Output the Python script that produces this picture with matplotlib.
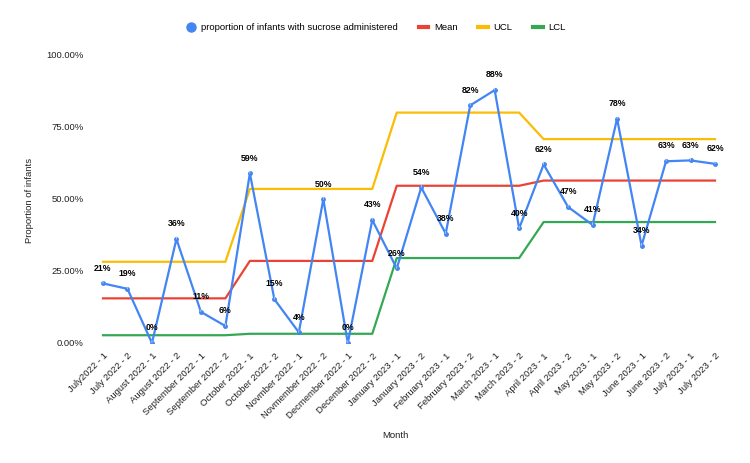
import matplotlib
matplotlib.use("Agg")
import matplotlib.pyplot as plt
from matplotlib.lines import Line2D
from matplotlib.ticker import FuncFormatter

plt.rcParams['font.family'] = ['Liberation Sans', 'DejaVu Sans']

categories = ["July2022 - 1", "July 2022 - 2", "August 2022 - 1", "August 2022 - 2",
              "September 2022 - 1", "September 2022 - 2", "October 2022 - 1", "October 2022 - 2",
              "Novmber 2022 - 1", "Novmember 2022 - 2", "Decmember 2022 - 1", "December 2022 - 2",
              "January 2023 - 1", "January 2023 - 2", "February 2023 - 1", "February 2023 - 2",
              "March 2023 - 1", "March 2023 - 2", "April 2023 - 1", "April 2023 - 2",
              "May 2023 - 1", "May 2023 - 2", "June 2023 - 1", "June 2023 - 2",
              "July 2023 - 1", "July 2023 - 2"]
proportion = [0.207, 0.188, 0.0, 0.361, 0.108, 0.059, 0.589, 0.152, 0.037, 0.499, 0.0, 0.427,
              0.259, 0.540, 0.380, 0.825, 0.878, 0.398, 0.620, 0.472, 0.410, 0.779, 0.338, 0.631,
              0.634, 0.622]
mean = [0.155]*6 + [0.285]*6 + [0.546]*6 + [0.564]*8
ucl = [0.282]*6 + [0.535]*6 + [0.800]*6 + [0.708]*8
lcl = [0.027]*6 + [0.032]*6 + [0.295]*6 + [0.420]*8

BLUE = '#4285F4'; RED = '#EA4335'; YELLOW = '#FBBC04'; GREEN = '#34A853'
FS = 6.8

fig = plt.figure(figsize=(7.5, 4.63), dpi=100)
ax = fig.add_axes([90.75/750, (463-343)/463, (727.25-90.75)/750, 288/463])
x = list(range(len(categories)))

ax.plot(x, mean, color=RED, lw=1.6, zorder=2)
ax.plot(x, ucl, color=YELLOW, lw=1.6, zorder=2)
ax.plot(x, lcl, color=GREEN, lw=1.6, zorder=2)
ax.plot(x, proportion, color=BLUE, lw=1.6, marker='o', ms=2.5, zorder=3)

for xi, v in zip(x, proportion):
    ax.annotate(f"{round(v*100):.0f}%", xy=(xi, v), xytext=(0, 11), textcoords='offset points',
                ha='center', va='center', fontsize=6.3, fontweight='bold', color='black',
                arrowprops=dict(arrowstyle='-', color='#dddddd', lw=0.5, shrinkA=4, shrinkB=0),
                zorder=4)

ax.set_xlim(-0.5, len(categories) - 0.5)
ax.set_ylim(0, 1)
ax.set_yticks([0, 0.25, 0.5, 0.75, 1.0])
ax.yaxis.set_major_formatter(FuncFormatter(lambda v, p: f"{v*100:.2f}%"))
ax.set_xticks(x)
ax.set_xticklabels(categories, rotation=45, ha='right', rotation_mode='anchor')
ax.tick_params(axis='both', length=0, labelsize=FS, colors='#222222')
ax.tick_params(axis='y', pad=5)
ax.tick_params(axis='x', pad=6)
for s in ax.spines.values():
    s.set_visible(False)

fig.text(30/750, 1 - 200/463, "Proportion of infants", rotation=90, ha='center', va='center',
         fontsize=FS, color='#222222')
fig.text(395/750, 1 - 435/463, "Month", ha='center', va='center', fontsize=FS, color='#222222')

handles = [Line2D([], [], color=BLUE, marker='o', ls='none', ms=6.5),
           Line2D([], [], color=RED, lw=3),
           Line2D([], [], color=YELLOW, lw=3),
           Line2D([], [], color=GREEN, lw=3)]
labels = ["proportion of infants with sucrose administered", "Mean", "UCL", "LCL"]
fig.legend(handles, labels, loc='center', bbox_to_anchor=(376/750, 1 - 28/463), ncol=4,
           frameon=False, fontsize=FS, handlelength=1.0, handletextpad=0.6, columnspacing=2.2)

fig.savefig("out.png", dpi=100)
